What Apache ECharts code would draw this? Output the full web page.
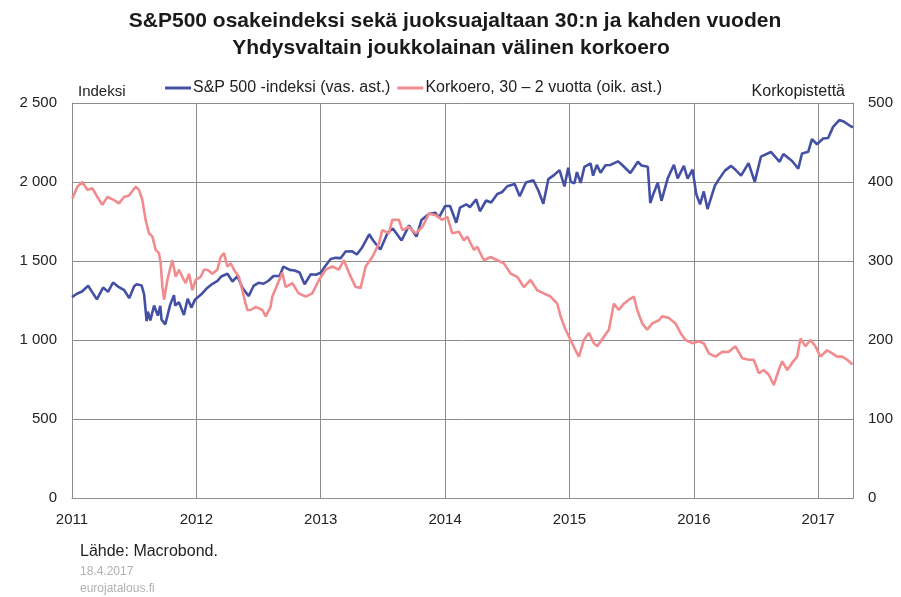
<!DOCTYPE html>
<html>
<head>
<meta charset="utf-8">
<script src="https://cdn.jsdelivr.net/npm/echarts@6/dist/echarts.min.js"></script>
<style>html,body{margin:0;padding:0;background:#fff}#c{width:901px;height:597px}</style>
</head>
<body>
<div id="c"></div>
<script>
// S&P 500 index (left axis) — [decimal year, value]
var spxTime = [2011.00,2011.04,2011.08,2011.13,2011.16,2011.20,2011.25,2011.29,2011.33,2011.37,2011.42,2011.46,2011.50,2011.52,2011.56,2011.58,2011.60,2011.61,2011.63,2011.66,2011.69,2011.71,2011.72,2011.75,2011.79,2011.82,2011.83,2011.86,2011.90,2011.93,2011.96,2011.99,
2012.04,2012.08,2012.12,2012.17,2012.20,2012.25,2012.29,2012.33,2012.37,2012.42,2012.46,2012.50,2012.54,2012.58,2012.62,2012.67,2012.70,2012.75,2012.79,2012.83,2012.87,2012.92,2012.96,2013.00,
2013.04,2013.08,2013.12,2013.16,2013.20,2013.25,2013.29,2013.33,2013.39,2013.42,2013.48,2013.54,2013.58,2013.65,2013.71,2013.77,2013.81,2013.87,2013.92,2013.95,2014.00,
2014.04,2014.09,2014.12,2014.17,2014.20,2014.25,2014.28,2014.33,2014.37,2014.42,2014.46,2014.50,2014.56,2014.60,2014.65,2014.71,2014.75,2014.79,2014.83,2014.87,2014.92,2014.96,2014.99,
2015.01,2015.04,2015.06,2015.09,2015.12,2015.17,2015.19,2015.22,2015.25,2015.29,2015.33,2015.39,2015.42,2015.49,2015.55,2015.58,2015.63,2015.65,2015.67,2015.71,2015.74,2015.79,2015.84,2015.87,2015.92,2015.95,2015.99,
2016.02,2016.05,2016.08,2016.11,2016.17,2016.20,2016.25,2016.30,2016.33,2016.38,2016.44,2016.49,2016.54,2016.62,2016.69,2016.72,2016.79,2016.84,2016.87,2016.92,2016.95,2016.99,
2017.04,2017.08,2017.12,2017.17,2017.20,2017.25,2017.28];
var spxValue = [1271,1293,1307,1343,1306,1257,1332,1305,1364,1338,1315,1265,1340,1353,1345,1287,1119,1179,1124,1218,1154,1216,1129,1099,1224,1284,1218,1239,1158,1261,1205,1257,
1289,1324,1350,1374,1402,1419,1370,1405,1330,1278,1342,1362,1356,1375,1405,1406,1465,1444,1440,1427,1353,1416,1413,1426,
1472,1513,1520,1518,1560,1562,1541,1582,1669,1631,1573,1682,1706,1630,1725,1655,1759,1798,1806,1775,1848,
1848,1742,1838,1859,1841,1890,1815,1883,1870,1924,1937,1973,1988,1910,1997,2011,1946,1862,2018,2040,2075,1972,2090,
2002,1992,2063,1994,2096,2117,2040,2108,2059,2106,2108,2131,2111,2057,2128,2104,2096,1867,1914,1995,1881,2023,2109,2023,2102,2021,2078,
1922,1859,1940,1829,1978,2015,2072,2102,2081,2040,2119,2001,2161,2190,2128,2177,2133,2085,2180,2191,2271,2239,
2275,2279,2349,2392,2385,2359,2345];

// 30y - 2y yield spread, basis points (right axis)
var spreadTime = [2011.003,2011.043,2011.084,2011.124,2011.164,2011.204,2011.244,2011.285,2011.338,2011.378,2011.418,2011.458,2011.512,2011.539,2011.566,2011.592,2011.619,2011.646,2011.673,2011.699,2011.713,2011.727,2011.740,2011.767,2011.793,2011.807,2011.834,2011.860,2011.887,2011.914,2011.941,2011.968,2011.994,
2012.035,2012.061,2012.088,2012.129,2012.169,2012.195,2012.222,2012.249,2012.276,2012.302,2012.342,2012.370,2012.396,2012.410,2012.436,2012.477,2012.531,2012.557,2012.597,2012.611,2012.691,2012.718,2012.772,2012.822,2012.879,2012.932,2012.986,
2013.039,2013.093,2013.146,2013.186,2013.227,2013.281,2013.321,2013.361,2013.415,2013.468,2013.495,2013.548,2013.576,2013.629,2013.656,2013.709,2013.763,2013.817,2013.870,2013.924,2013.977,
2014.018,2014.058,2014.111,2014.151,2014.178,2014.232,2014.258,2014.312,2014.366,2014.420,2014.473,2014.527,2014.580,2014.633,2014.687,2014.741,2014.794,2014.848,2014.902,2014.929,2014.969,
2015.009,2015.049,2015.076,2015.116,2015.156,2015.196,2015.223,2015.277,2015.317,2015.357,2015.397,2015.437,2015.478,2015.518,2015.545,2015.585,2015.625,2015.666,2015.719,2015.746,2015.799,2015.853,2015.893,2015.933,2015.987,
2016.040,2016.080,2016.121,2016.174,2016.228,2016.281,2016.335,2016.389,2016.442,2016.482,2016.523,2016.563,2016.603,2016.643,2016.683,2016.711,2016.751,2016.791,2016.831,2016.858,2016.898,2016.938,2016.978,
2017.018,2017.072,2017.113,2017.153,2017.193,2017.233,2017.276];
var spreadValue = [379,394,400,390,392,381,371,381,377,373,381,383,394,390,377,352,335,331,314,310,297,267,251,276,293,301,280,289,280,272,284,263,276,
280,289,289,284,289,305,310,293,297,289,280,263,246,238,238,242,238,230,242,255,285,267,272,259,255,259,276,
289,293,289,301,285,267,266,293,305,322,339,335,352,352,339,343,335,343,360,358,352,
356,335,337,326,331,314,318,301,305,301,297,284,280,267,276,263,259,255,246,230,213,
200,187,179,200,209,196,192,204,213,246,238,246,251,255,238,221,213,221,225,230,228,221,209,200,196,
198,196,183,179,185,185,192,177,175,175,158,162,156,143,162,173,162,171,179,202,192,200,192,
179,187,183,179,179,175,169];

var yearTicks = [2011,2012,2013,2014,2015,2016,2017];
var leftTicks = [0,500,1000,1500,2000,2500];
var rightTicks = [0,100,200,300,400,500];

var titleLines = ['S&P500 osakeindeksi sekä juoksuajaltaan 30:n ja kahden vuoden', 'Yhdysvaltain joukkolainan välinen korkoero'];
var seriesNames = ['S&P 500 -indeksi (vas. ast.)', 'Korkoero, 30 – 2 vuotta (oik. ast.)'];

function zip(a, b) { return a.map(function (t, i) { return [t, b[i]]; }); }
function fmtThousands(v) { return String(v).replace(/\B(?=(\d{3})+(?!\d))/g, ' '); }

var FONT = 'Liberation Sans, Arial, sans-serif';
var gridColor = '#8c8c8c';
var chart = echarts.init(document.getElementById('c'), null, {renderer: 'canvas'});
chart.setOption({
  animation: false,
  backgroundColor: '#fff',
  legend: {
    top: 75,
    left: 160,
    itemGap: 7,
    icon: 'rect',
    itemWidth: 26,
    itemHeight: 3,
    textStyle: {fontFamily: FONT, fontSize: 16, color: '#222', padding: [0, 0, 0, -3]},
    data: seriesNames
  },
  grid: {left: 72, right: 48, top: 103, bottom: 99, containLabel: false},
  xAxis: {
    type: 'value',
    min: yearTicks[0],
    max: 2017.28,
    interval: 1,
    axisLine: {show: true, lineStyle: {color: gridColor, width: 1}},
    axisTick: {show: false},
    splitLine: {show: true, lineStyle: {color: gridColor, width: 1}},
    axisLabel: {
      showMaxLabel: false,
      margin: 14,
      fontFamily: FONT, fontSize: 15, color: '#222',
      formatter: function (v) { return yearTicks.indexOf(Math.round(v * 1000) / 1000) >= 0 ? String(v) : ''; }
    }
  },
  yAxis: [{
    type: 'value',
    min: leftTicks[0], max: leftTicks[leftTicks.length - 1], interval: 500,
    axisLine: {show: true, lineStyle: {color: gridColor}},
    axisTick: {show: false},
    splitLine: {show: true, lineStyle: {color: gridColor, width: 1}},
    axisLabel: {margin: 15, fontFamily: FONT, fontSize: 15, color: '#222', formatter: fmtThousands}
  }, {
    type: 'value',
    min: rightTicks[0], max: rightTicks[rightTicks.length - 1], interval: 100,
    position: 'right',
    axisLine: {show: true, lineStyle: {color: gridColor}},
    axisTick: {show: false},
    splitLine: {show: false},
    axisLabel: {margin: 15, fontFamily: FONT, fontSize: 15, color: '#222'}
  }],
  graphic: [
    {type: 'text', x: 455, y: 11, style: {text: titleLines[0], font: 'bold 21px ' + FONT, fill: '#1a1a1a', textAlign: 'center'}},
    {type: 'text', x: 451, y: 38, style: {text: titleLines[1], font: 'bold 21px ' + FONT, fill: '#1a1a1a', textAlign: 'center'}},
    {type: 'text', left: 78, top: 84, style: {text: 'Indeksi', font: '15px ' + FONT, fill: '#222'}},
    {type: 'text', right: 56, top: 84, style: {text: 'Korkopistettä', font: '16px ' + FONT, fill: '#222'}},
    {type: 'text', left: 80, top: 544, style: {text: 'Lähde: Macrobond.', font: '16px ' + FONT, fill: '#222'}},
    {type: 'text', left: 80, top: 566, style: {text: '18.4.2017', font: '12px ' + FONT, fill: '#b0b0b0'}},
    {type: 'text', left: 80, top: 583, style: {text: 'eurojatalous.fi', font: '12px ' + FONT, fill: '#b0b0b0'}}
  ],
  series: [{
    name: seriesNames[0],
    type: 'line',
    yAxisIndex: 0,
    showSymbol: false,
    symbol: 'none',
    lineStyle: {color: '#4450a3', width: 2.6},
    itemStyle: {color: '#4450a3'},
    data: zip(spxTime, spxValue)
  }, {
    name: seriesNames[1],
    type: 'line',
    yAxisIndex: 1,
    showSymbol: false,
    symbol: 'none',
    lineStyle: {color: '#f28b8e', width: 2.6},
    itemStyle: {color: '#f28b8e'},
    data: zip(spreadTime, spreadValue)
  }]
});
</script>
</body>
</html>
